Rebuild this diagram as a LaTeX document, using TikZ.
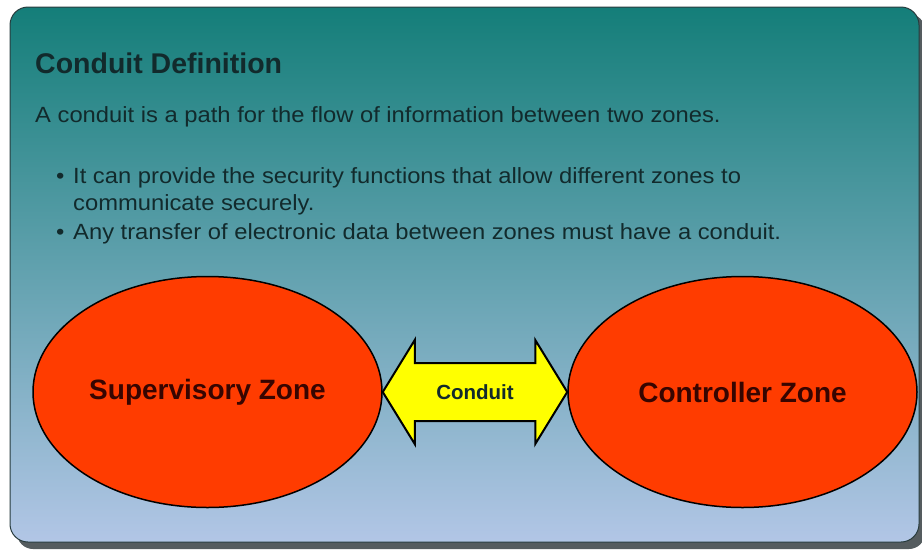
\documentclass[tikz,border=0pt]{standalone}
\usepackage{fontspec}
\setmainfont{Liberation Sans}
\newfontfamily\widesans[FakeStretch=1.08]{Liberation Sans}
\usetikzlibrary{calc,shapes.geometric}
\definecolor{panelTop}{RGB}{20,126,121}
\definecolor{panelMid}{RGB}{82,160,166}
\definecolor{panelBot}{RGB}{178,198,230}
\definecolor{panelEdge}{RGB}{40,60,62}
\definecolor{shadowGrey}{RGB}{85,92,95}
\definecolor{inkDark}{RGB}{18,42,44}
\definecolor{zoneRed}{RGB}{255,60,0}
\definecolor{zoneInk}{RGB}{55,5,0}
\definecolor{pipeYellow}{RGB}{255,255,0}

\begin{document}
\begin{tikzpicture}[x=1pt,y=-1pt,line join=round]
	\tikzstyle{txt}=[anchor=base west,inner sep=0pt,text=inkDark,font=\widesans\fontsize{22}{26}\selectfont];
	\tikzstyle{zone}=[ellipse,draw=black,line width=1.5pt,fill=zoneRed,minimum width=349pt,minimum height=231pt,inner sep=0pt,text=zoneInk,font=\fontsize{28}{32}\selectfont\bfseries];
	\tikzstyle{pipe}=[draw=black,line width=2pt,line join=miter,fill=pipeYellow];

	\useasboundingbox (0,0) rectangle (922,550);
	\fill[shadowGrey,rounded corners=16pt] (17,14) rectangle (925,549);
	\draw[panelEdge,line width=1pt,rounded corners=18pt,top color=panelTop,middle color=panelMid,bottom color=panelBot] (10,7) rectangle (919,542);

	\node[txt,font=\fontsize{28.5}{32}\selectfont\bfseries] (title) at (35,73) {Conduit Definition};
	\node[txt] (intro) at (35,122) {A conduit is a path for the flow of information between two zones.};
	\node[txt] (dot1) at (56,183) {•};
	\node[txt] (item1) at (73,183) {It can provide the security functions that allow different zones to};
	\node[txt] (item1b) at (73,210) {communicate securely.};
	\node[txt] (dot2) at (56,239) {•};
	\node[txt] (item2) at (73,239) {Any transfer of electronic data between zones must have a conduit.};

	\node[zone] (sup) at (207.5,392) {Supervisory Zone};
	\node[zone] (ctl) at (742.5,392) {Controller Zone};

	\draw[pipe] (sup.east) -- ++(32,-52) -- ++(0,23) -- ($(ctl.west)+(-32,-29)$) -- ++(0,-23) -- (ctl.west)
		-- ++(-32,52) -- ++(0,-23) -- ($(sup.east)+(32,29)$) -- ++(0,23) -- cycle;
	\node[text=inkDark,font=\fontsize{20.5}{24}\selectfont\bfseries] (cnd) at ($(sup.east)!0.5!(ctl.west)$) {Conduit};
\end{tikzpicture}
\end{document}
